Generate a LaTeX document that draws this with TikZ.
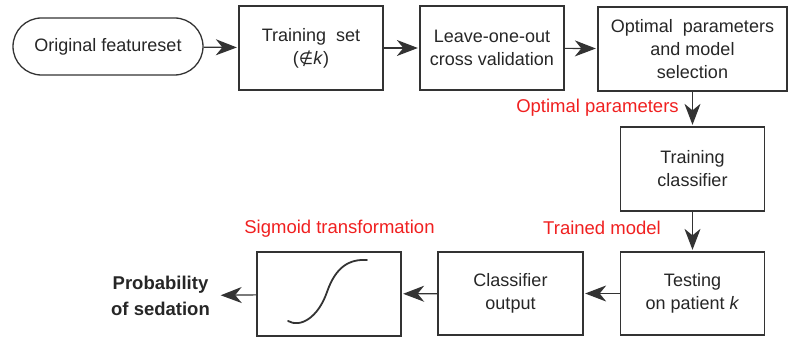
\documentclass[tikz,border=0pt]{standalone}
\usepackage{fontspec}
\setmainfont{Liberation Sans}
\newfontfamily\dejavu{DejaVu Sans}
\usetikzlibrary{arrows.meta}
\definecolor{linec}{HTML}{333333}
\definecolor{redtxt}{HTML}{F02020}
\begin{document}
\begin{tikzpicture}[x=1pt,y=-1pt,
  every node/.style={font=\fontsize{18}{23}\selectfont, text=black!85, align=center, inner sep=0pt},
  box/.style={draw=linec, line width=1.3pt, minimum width=144pt, minimum height=84pt},
  lbl/.style={text=redtxt, font=\fontsize{18.5}{23}\selectfont},
  arr/.style={draw=linec, line width=1.2pt, -{Stealth[length=21pt,width=16pt,inset=6.5pt]}, shorten >=1.5pt}]
\useasboundingbox (0,0) rectangle (788,339);
\node[draw=linec, line width=1.3pt, rounded corners=28.5pt, minimum width=190pt, minimum height=57pt] (orig) at (108,46.5) {Original featureset};
\node[box] (train) at (311,48) {Training\ \ set\\({\dejavu\fontsize{16.5}{20}\selectfont ∉}\textit{k})};
\node[box] (loo) at (492,48) {Leave-one-out\\cross validation};
\node[box, minimum width=189pt] (opt) at (692.5,49) {Optimal\ \ parameters\\and model\\selection};
\node[box] (tc) at (692.5,169) {Training\\classifier};
\node[box, minimum height=83pt] (test) at (692.5,293.5) {Testing\\on patient \textit{k}};
\node[box, minimum height=83pt, minimum width=145pt] (co) at (510.5,293.5) {Classifier\\output};
\node[box] (sig) at (329,294) {};
\node[font=\bfseries\fontsize{18.5}{26}\selectfont, minimum width=120pt] (prob) at (160.5,296) {Probability\\of sedation};
\node[lbl] (l1) at (597.5,108) {Optimal parameters};
\node[lbl] (l2) at (602,228) {Trained model};
\node[lbl] (l3) at (339.5,229) {Sigmoid transformation};
\draw[arr] (orig) -- (train);
\draw[arr] (train) -- (loo);
\draw[arr] (loo) -- (opt);
\draw[arr] (opt) -- (tc);
\draw[arr] (tc) -- (test);
\draw[arr] (test) -- (co);
\draw[arr] (co) -- (sig);
\draw[arr, shorten >=0pt] (sig) -- (prob);
\draw[linec, line width=1.8pt, line cap=round] (288,321) .. controls (300,328) and (318,318) .. (327,292) .. controls (336,266) and (350,259) .. (367,260);
\end{tikzpicture}
\end{document}
